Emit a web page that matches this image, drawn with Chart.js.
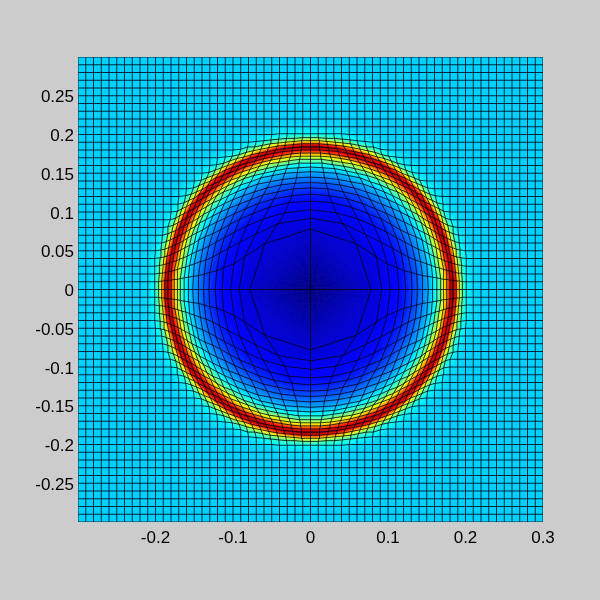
<!DOCTYPE html>
<html>
<head>
<meta charset="utf-8">
<title>mesh</title>
<style>
  html,body{margin:0;padding:0;background:#cccccc}
  canvas{display:block}
</style>
<script src="https://cdn.jsdelivr.net/npm/chart.js@4"></script>
</head>
<body>
<canvas id="my_chart" width="600" height="600"></canvas>
<script>
const xTicks = [-0.2,-0.1,0,0.1,0.2,0.3];
const yTicks = [-0.25,-0.2,-0.15,-0.1,-0.05,0,0.05,0.1,0.15,0.2,0.25];
const background = 33;

// mesh node offsets for one quadrant, in 1/1000 of an axis unit: meshX[row][col]
// y offset of a node is meshX[col][row], the mesh mirrors over the diagonal
// anything past the end of a row sits on the regular grid
const meshRegular = [0,10,20,30,40,50,60,70,80,90,100,110,120,130,140,150,160,170,180,190,200,210,220,230,240,250,260,270,280,290,300];
const meshX = [
[0,78,92,103,114,123,131,138,145,152,158,163,168,172,176,180,184,188,192,196,201,210],
[0,59,85,99,112,121,130,137,144,151,157,163,168,172,176,180,184,188,192,196,201,210],
[0,42,71,91,106,117,126,135,142,150,156,161,166,171,175,179,183,187,191,195,201,210],
[0,33,61,82,98,111,122,131,139,147,153,159,164,169,173,178,182,186,190,195,201,210],
[0,28,53,74,91,104,116,126,136,144,150,156,162,167,171,176,180,185,189,194,201,210],
[0,24,47,67,84,98,110,121,131,139,147,153,159,164,169,174,178,183,188,193,200,210],
[0,22,42,61,77,92,105,116,126,135,143,149,155,161,166,171,176,181,186,192,200,210],
[0,20,38,56,72,87,100,111,121,130,138,145,152,158,163,169,174,179,184,191,200,210],
[0,18,36,52,68,82,95,106,116,126,134,141,148,154,160,166,171,177,184,190,200,210],
[0,17,33,49,64,77,90,101,112,121,129,137,144,151,157,163,169,174,181,190,200,210],
[0,16,31,46,60,73,86,97,107,116,125,133,140,147,154,160,166,172,180,190,200,210],
[0,15,29,43,57,70,81,92,103,112,121,129,136,144,150,157,163,171,180,190,200,210],
[0,14,28,41,54,66,78,88,99,108,117,125,133,140,147,154,161,170,180,190,200,210],
[0,13,26,39,51,63,74,85,95,104,113,122,129,137,144,151,160,170,180,190,200,210],
[0,13,25,37,49,60,71,82,92,101,110,118,126,134,141,150,160,170,180,190,200,210],
[0,12,24,36,47,58,69,79,89,98,107,115,123,131,140,150,160,170,180,190,200,210],
[0,12,23,34,45,56,66,76,86,95,104,112,121,130,140,150,160,170,180,190,200,210],
[0,11,22,33,43,54,64,74,83,92,101,110,120,130,140,150,160,170,180,190,200,210],
[0,11,21,32,42,52,62,72,81,90,100,110,120,130,140,150,160,170,180,190,200,210],
[0,10,21,31,41,51,60,70,80,90,100,110,120,130,140,150,160,170,180,190,200,210]
];

// colour value (0-100 along jet) at each node of one quadrant
// rows stop where the flat background starts
const nodeValues = [
[0,8,10,12,13,15,18,21,25,29,34,40,50,60,72,86,100,84,62,48,37,34],
[8,9,10,12,13,15,18,21,25,29,34,40,50,60,72,86,100,83,62,48,37,34],
[10,10,12,13,14,16,19,22,26,30,35,42,52,62,74,88,98,81,60,47,37,34],
[12,12,13,13,15,17,20,23,27,31,37,44,54,64,76,90,96,78,59,45,36,34],
[13,13,14,15,17,19,22,25,29,33,39,47,56,67,80,93,92,74,56,43,36,34],
[15,15,16,17,19,21,24,27,31,36,42,51,60,71,84,97,88,68,52,41,35],
[18,18,19,20,22,24,27,30,34,39,47,55,65,76,89,98,82,62,48,38,34],
[21,21,22,23,25,27,30,33,38,44,52,60,71,83,95,91,74,57,45,36,34],
[25,25,26,27,29,31,34,38,43,50,58,67,78,90,98,84,64,51,40,35],
[29,29,30,31,33,36,39,44,50,57,65,75,86,97,90,73,57,45,37,34],
[34,34,35,37,39,42,47,52,58,65,74,84,95,94,79,62,50,40,35,34],
[40,40,42,44,47,51,55,60,67,75,84,94,96,83,66,54,44,36,34],
[50,50,52,54,56,60,65,71,78,86,95,96,84,69,56,46,37,35],
[60,60,62,64,67,71,76,83,90,97,94,83,69,57,47,39,35,34],
[72,72,74,76,80,84,89,95,98,90,79,66,56,47,39,35,34],
[86,86,88,90,93,97,98,91,84,73,62,54,46,39,35,34],
[100,100,98,96,92,88,82,74,64,57,50,44,37,35,34],
[84,83,81,78,74,68,62,57,51,45,40,36,35,34],
[62,62,60,59,56,52,48,45,40,37,35,34],
[48,48,47,45,43,41,38,36,35,34],
[37,37,37,36,36,35,34,34],
[34,34,34,34,34]
];

// jet colormap stops
const jetPos = [0,0.125,0.375,0.625,0.875,1];
const jetRgb = [[0,0,128],[0,0,255],[0,255,255],[255,255,0],[255,0,0],[128,0,0]];

function jet(v){
  const t = Math.min(1,Math.max(0,v/100));
  let k = 0;
  while(k<jetPos.length-2 && t>jetPos[k+1]) k++;
  const f = (t-jetPos[k])/(jetPos[k+1]-jetPos[k]);
  const c = jetRgb[k].map((a,n)=>Math.round(a+(jetRgb[k+1][n]-a)*f));
  return 'rgb('+c[0]+','+c[1]+','+c[2]+')';
}

function offset(row,col){
  const r = meshX[row];
  return r && col<r.length ? r[col] : meshRegular[col];
}
function nodeX(a,b){ return Math.sign(a)*offset(Math.abs(b),Math.abs(a))/1000; }
function nodeY(a,b){ return Math.sign(b)*offset(Math.abs(a),Math.abs(b))/1000; }
function nodeV(a,b){
  const row = nodeValues[Math.abs(b)];
  if(!row) return background;
  const v = row[Math.abs(a)];
  return v===undefined ? background : v;
}

// mesh lines are plain scatter lines
const datasets = [];
for(let n=-30;n<=30;n++){
  const across=[], down=[];
  for(let m=-30;m<=30;m++){
    across.push({x:nodeX(m,n),y:nodeY(m,n)});
    down.push({x:nodeX(n,m),y:nodeY(n,m)});
  }
  datasets.push({data:across},{data:down});
}
datasets.forEach(d=>{
  d.showLine=true; d.borderColor='rgba(0,0,16,0.8)'; d.borderWidth=1;
  d.pointRadius=0; d.tension=0; d.fill=false;
});

// shaded cells, painted under the mesh lines through the chart scales
const cellsPlugin = {
  id:'cells',
  beforeDatasetsDraw(chart){
    const c=chart.ctx, sx=chart.scales.x, sy=chart.scales.y;
    c.save();
    c.beginPath();
    c.rect(chart.chartArea.left,chart.chartArea.top,chart.chartArea.width,chart.chartArea.height);
    c.clip();
    c.lineWidth=0.7;
    for(let b=-30;b<30;b++){
      for(let a=-30;a<30;a++){
        const corners=[[a,b],[a+1,b],[a+1,b+1],[a,b+1]];
        const px=corners.map(p=>sx.getPixelForValue(nodeX(p[0],p[1])));
        const py=corners.map(p=>sy.getPixelForValue(nodeY(p[0],p[1])));
        const vals=corners.map(p=>nodeV(p[0],p[1]));
        const side=Math.max(Math.abs(px[2]-px[0]),Math.abs(py[2]-py[0]),Math.abs(px[1]-px[3]),Math.abs(py[1]-py[3]));
        const steps=vals.every(v=>v===vals[0]) ? 1 : Math.max(2,Math.ceil(side/2.5));
        const mix=(q,u,w)=>(q[0]*(1-u)+q[1]*u)*(1-w)+(q[3]*(1-u)+q[2]*u)*w;
        for(let i=0;i<steps;i++){
          for(let j=0;j<steps;j++){
            const u0=i/steps,u1=(i+1)/steps,w0=j/steps,w1=(j+1)/steps;
            const col=jet(mix(vals,(u0+u1)/2,(w0+w1)/2));
            c.fillStyle=col; c.strokeStyle=col;
            c.beginPath();
            c.moveTo(mix(px,u0,w0),mix(py,u0,w0));
            c.lineTo(mix(px,u1,w0),mix(py,u1,w0));
            c.lineTo(mix(px,u1,w1),mix(py,u1,w1));
            c.lineTo(mix(px,u0,w1),mix(py,u0,w1));
            c.closePath();
            c.fill(); c.stroke();
          }
        }
      }
    }
    c.restore();
  }
};

const label = v => String(+Number(v).toFixed(2));

new Chart(document.getElementById('my_chart').getContext('2d'),{
  type:'scatter',
  data:{datasets:datasets},
  plugins:[cellsPlugin],
  options:{
    responsive:false,
    animation:false,
    layout:{padding:{left:0,top:57,right:57,bottom:0}},
    plugins:{legend:{display:false},tooltip:{enabled:false}},
    scales:{
      x:{
        type:'linear',min:-0.3,max:0.3,
        grid:{display:false,drawTicks:false},border:{display:false},
        afterBuildTicks(s){ s.ticks=xTicks.map(v=>({value:v})); },
        afterFit(s){ s.height=78; },
        ticks:{color:'#000',font:{family:'"Liberation Sans"',size:17},padding:6,maxRotation:0,autoSkip:false,callback:label}
      },
      y:{
        type:'linear',min:-0.3,max:0.3,
        grid:{display:false,drawTicks:false},border:{display:false},
        afterBuildTicks(s){ s.ticks=yTicks.map(v=>({value:v})); },
        afterFit(s){ s.width=78; },
        // the empty first line nudges the label down 2px, to sit like the original
        ticks:{color:'#000',font:{family:'"Liberation Sans"',size:17,lineHeight:0.235},padding:4,autoSkip:false,callback:v=>['',label(v)]}
      }
    }
  }
});
</script>
</body>
</html>
